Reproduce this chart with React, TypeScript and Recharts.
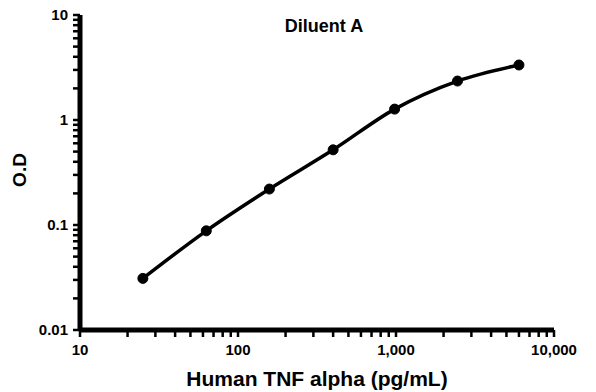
import React from 'react'
import { Line, LineChart, ReferenceLine, XAxis, YAxis } from 'recharts'

// standard curve, Diluent A
const concentrations = [25, 63, 158, 400, 980, 2450, 6000]
const odValues = [0.031, 0.088, 0.22, 0.52, 1.27, 2.35, 3.34]

const xMajorTicks = [10, 100, 1000, 10000]
const xTicks = [
  10, 20, 30, 40, 50, 60, 70, 80, 90,
  100, 200, 300, 400, 500, 600, 700, 800, 900,
  1000, 2000, 3000, 4000, 5000, 6000, 7000, 8000, 9000,
  10000
]
const yMajorTicks = [0.01, 0.1, 1, 10]
const yTicks = [
  0.01, 0.02, 0.03, 0.04, 0.05, 0.06, 0.07, 0.08, 0.09,
  0.1, 0.2, 0.3, 0.4, 0.5, 0.6, 0.7, 0.8, 0.9,
  1, 2, 3, 4, 5, 6, 7, 8, 9,
  10
]

const data = concentrations.map((c, i) => ({ conc: c, od: odValues[i] }))

const FONT = 'Arial, "Liberation Sans", sans-serif'

function renderXTick(props: any) {
  const { x, y, payload } = props
  if (!xMajorTicks.includes(payload.value)) return <g />
  return (
    <text x={x} y={y} dy="0.71em" textAnchor="middle" fontFamily={FONT} fontSize={15} fontWeight="bold" fill="#000">
      {payload.value.toLocaleString('en-US')}
    </text>
  )
}

function renderYTick(props: any) {
  const { x, y, payload } = props
  if (!yMajorTicks.includes(payload.value)) return <g />
  return (
    <text x={x} y={y} dy="0.35em" textAnchor="end" fontFamily={FONT} fontSize={15} fontWeight="bold" fill="#000">
      {String(payload.value)}
    </text>
  )
}

export default function App() {
  return (
    <div style={{ position: 'relative', left: -8, top: -8, width: 596, height: 392, fontFamily: FONT }}>
      <LineChart
        width={596}
        height={392}
        data={data}
        margin={{ top: 15, right: 42, left: 0, bottom: 0 }}
      >
        <XAxis
          dataKey="conc"
          type="number"
          scale="log"
          domain={[10, 10000]}
          ticks={xTicks}
          interval={0}
          allowDataOverflow
          height={62}
          tick={renderXTick}
          tickSize={7}
          tickMargin={7}
          stroke="black"
          axisLine={{ stroke: 'black', strokeWidth: 5 }}
          tickLine={{ stroke: 'black', strokeWidth: 2.5 }}
        />
        <YAxis
          type="number"
          scale="log"
          domain={[0.01, 10]}
          ticks={yTicks}
          interval={0}
          allowDataOverflow
          width={80}
          tick={renderYTick}
          tickSize={7}
          tickMargin={5}
          stroke="black"
          axisLine={{ stroke: 'black', strokeWidth: 5 }}
          tickLine={{ stroke: 'black', strokeWidth: 2.5 }}
        />
        <ReferenceLine x={10} stroke="black" strokeWidth={4} ifOverflow="visible" />
        <ReferenceLine y={0.01} stroke="black" strokeWidth={4} ifOverflow="visible" />
        <Line
          dataKey="od"
          type="monotone"
          stroke="#000"
          strokeWidth={3.5}
          dot={{ r: 5, fill: '#000', stroke: '#000', strokeWidth: 1 }}
          isAnimationActive={false}
        />
      </LineChart>
      <div style={{ position: 'absolute', left: 264, top: 16, width: 120, textAlign: 'center', fontSize: 18, fontWeight: 'bold' }}>
        Diluent A
      </div>
      <div
        style={{
          position: 'absolute',
          left: 20 - 30,
          top: 159,
          width: 60,
          textAlign: 'center',
          fontSize: 19,
          fontWeight: 'bold',
          transform: 'rotate(-90deg)'
        }}
      >
        O.D
      </div>
      <div style={{ position: 'absolute', left: 117, top: 367, width: 400, textAlign: 'center', fontSize: 21, fontWeight: 'bold' }}>
        Human TNF alpha (pg/mL)
      </div>
    </div>
  )
}
